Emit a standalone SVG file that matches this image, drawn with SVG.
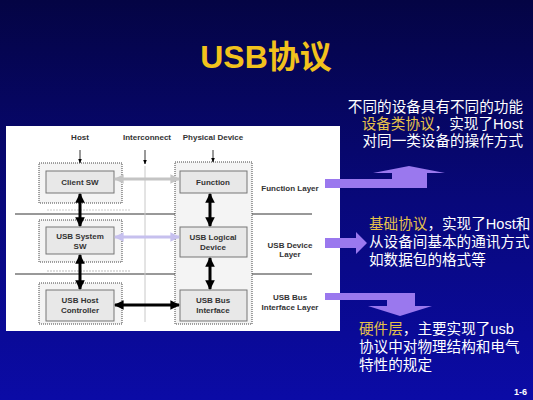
<svg xmlns="http://www.w3.org/2000/svg" width="533" height="400" viewBox="0 0 533 400">
<defs>
<linearGradient id="bg" x1="0" y1="0" x2="0" y2="1">
<stop offset="0" stop-color="#040444"/>
<stop offset="0.5" stop-color="#08087a"/>
<stop offset="1" stop-color="#0b0ba6"/>
</linearGradient>
<marker id="bk" viewBox="0 0 10 10" refX="9" refY="5" markerWidth="3.2" markerHeight="3.2" orient="auto-start-reverse" markerUnits="strokeWidth">
<path d="M0,0 L10,5 L0,10 z" fill="#000"/>
</marker>
<marker id="gr" viewBox="0 0 10 10" refX="9" refY="5" markerWidth="3.2" markerHeight="3.2" orient="auto-start-reverse" markerUnits="strokeWidth">
<path d="M0,0 L10,5 L0,10 z" fill="#c4c4c4"/>
</marker>
<marker id="lv" viewBox="0 0 10 10" refX="9" refY="5" markerWidth="3.2" markerHeight="3.2" orient="auto-start-reverse" markerUnits="strokeWidth">
<path d="M0,0 L10,5 L0,10 z" fill="#c6c0ee"/>
</marker>
<marker id="sm" viewBox="0 0 10 10" refX="9" refY="5" markerWidth="6" markerHeight="6" orient="auto" markerUnits="strokeWidth">
<path d="M0,1 L10,5 L0,9 z" fill="#000"/>
</marker>
</defs>
<style>
.lbl{font-family:"Liberation Sans",Arial,sans-serif;font-size:8px;font-weight:bold;fill:#333;text-anchor:middle}
.outer{fill:#f4f4f4;stroke:#444;stroke-width:1;stroke-dasharray:1 1}
.inner{fill:#e8e8e8;stroke:#777;stroke-width:1}
.cn{font-family:"Liberation Sans","Noto Sans CJK SC",sans-serif;font-size:14.6px;fill:#ffffff}
.y{fill:#e6c24a}
.thick{stroke:#000;stroke-width:3;fill:none}
.purple{fill:#9a78ee}
</style>
<rect x="0" y="0" width="533" height="400" fill="url(#bg)"/>
<text x="266" y="68" font-family="Liberation Sans,Noto Sans CJK SC,sans-serif" font-size="32" font-weight="bold" fill="#f2c21c" text-anchor="middle">USB协议</text>

<rect x="6" y="126" width="334" height="205" fill="#ffffff"/>

<g id="headers">
<text class="lbl" x="80" y="140">Host</text>
<text class="lbl" x="147" y="140">Interconnect</text>
<text class="lbl" x="213" y="140">Physical Device</text>
</g>

<g id="layers">
<line x1="15" y1="214" x2="312" y2="214" stroke="#333" stroke-width="1"/>
<line x1="15" y1="274" x2="312" y2="274" stroke="#333" stroke-width="1"/>
<line x1="47" y1="210" x2="130" y2="210" stroke="#ccc" stroke-width="1" stroke-dasharray="2 1"/>
<line x1="47" y1="271" x2="130" y2="271" stroke="#bbb" stroke-width="1" stroke-dasharray="2 1"/>
<line x1="145" y1="166" x2="145" y2="322" stroke="#c8c8c8" stroke-width="1"/>
</g>

<g id="physical-device">
<rect class="outer" x="175" y="162" width="77" height="162" fill="#ececec"/>
</g>
<g id="host-client">
<rect class="outer" x="39" y="163" width="83" height="40"/>
</g>
<g id="host-system">
<rect class="outer" x="39" y="220" width="83" height="42"/>
</g>
<g id="host-controller">
<rect class="outer" x="39" y="283" width="83" height="41"/>
</g>

<g id="client-sw">
<rect class="inner" x="46" y="171" width="68" height="22"/>
<text class="lbl" x="80" y="185">Client SW</text>
</g>
<g id="usb-system-sw">
<rect class="inner" x="46" y="227" width="68" height="27"/>
<text class="lbl" x="80" y="239">USB System</text>
<text class="lbl" x="80" y="249">SW</text>
</g>
<g id="usb-host-controller">
<rect class="inner" x="46" y="290" width="68" height="31"/>
<text class="lbl" x="80" y="303">USB Host</text>
<text class="lbl" x="80" y="313">Controller</text>
</g>
<g id="function">
<rect class="inner" x="180" y="171" width="67" height="22"/>
<text class="lbl" x="213" y="185">Function</text>
</g>
<g id="usb-logical-device">
<rect class="inner" x="180" y="227" width="67" height="30"/>
<text class="lbl" x="213" y="240">USB Logical</text>
<text class="lbl" x="213" y="250">Device</text>
</g>
<g id="usb-bus-interface">
<rect class="inner" x="180" y="290" width="67" height="31"/>
<text class="lbl" x="213" y="303">USB Bus</text>
<text class="lbl" x="213" y="313">Interface</text>
</g>

<g id="layer-labels">
<text class="lbl" x="290" y="191">Function Layer</text>
<text class="lbl" x="290" y="248">USB Device</text>
<text class="lbl" x="290" y="257">Layer</text>
<text class="lbl" x="290" y="300">USB Bus</text>
<text class="lbl" x="290" y="310">Interface Layer</text>
</g>

<g id="connectors">
<line x1="80" y1="150" x2="80" y2="163" stroke="#000" stroke-width="0.8" marker-end="url(#sm)"/>
<line x1="145" y1="150" x2="145" y2="164" stroke="#000" stroke-width="0.8" marker-end="url(#sm)"/>
<line x1="213" y1="150" x2="213" y2="162" stroke="#000" stroke-width="0.8" marker-end="url(#sm)"/>
<line class="thick" x1="80" y1="194" x2="80" y2="226" marker-start="url(#bk)" marker-end="url(#bk)"/>
<line class="thick" x1="80" y1="255" x2="80" y2="289" marker-start="url(#bk)" marker-end="url(#bk)"/>
<line class="thick" x1="210" y1="194" x2="210" y2="226" marker-start="url(#bk)" marker-end="url(#bk)"/>
<line class="thick" x1="210" y1="258" x2="210" y2="289" marker-start="url(#bk)" marker-end="url(#bk)"/>
<line class="thick" x1="115" y1="305" x2="179" y2="305" marker-start="url(#bk)" marker-end="url(#bk)"/>
<line x1="115" y1="179" x2="179" y2="179" stroke="#c4c4c4" stroke-width="3" marker-start="url(#gr)" marker-end="url(#gr)"/>
<line x1="115" y1="237" x2="179" y2="237" stroke="#c6c0ee" stroke-width="3" marker-start="url(#lv)" marker-end="url(#lv)"/>
<polygon class="purple" points="325,179 392,179 392,173 373,173 409,166 445,173 427,173 427,188 325,188"/>
<polygon class="purple" points="325,238 356,238 356,232 367,243 356,254 356,248 325,248"/>
<polygon class="purple" points="325,293 415,293 415,306 432,306 400,316 368,306 387,306 387,300 325,300"/>
</g>

<g id="texts">
<text class="cn" x="523" y="112" text-anchor="end">不同的设备具有不同的功能</text>
<text class="cn" x="523" y="129" text-anchor="end"><tspan class="y">设备类协议</tspan>，实现了Host</text>
<text class="cn" x="523" y="146" text-anchor="end">对同一类设备的操作方式</text>
<text class="cn" x="369" y="229"><tspan class="y">基础协议</tspan>，实现了Host和</text>
<text class="cn" x="369" y="247">从设备间基本的通讯方式</text>
<text class="cn" x="369" y="265">如数据包的格式等</text>
<text class="cn" x="359" y="334"><tspan class="y">硬件层</tspan>，主要实现了usb</text>
<text class="cn" x="359" y="352">协议中对物理结构和电气</text>
<text class="cn" x="359" y="370">特性的规定</text>
<text x="527" y="395" font-family="Liberation Sans,Arial,sans-serif" font-size="9" font-weight="bold" fill="#fff" text-anchor="end">1-6</text>
</g>
</svg>
